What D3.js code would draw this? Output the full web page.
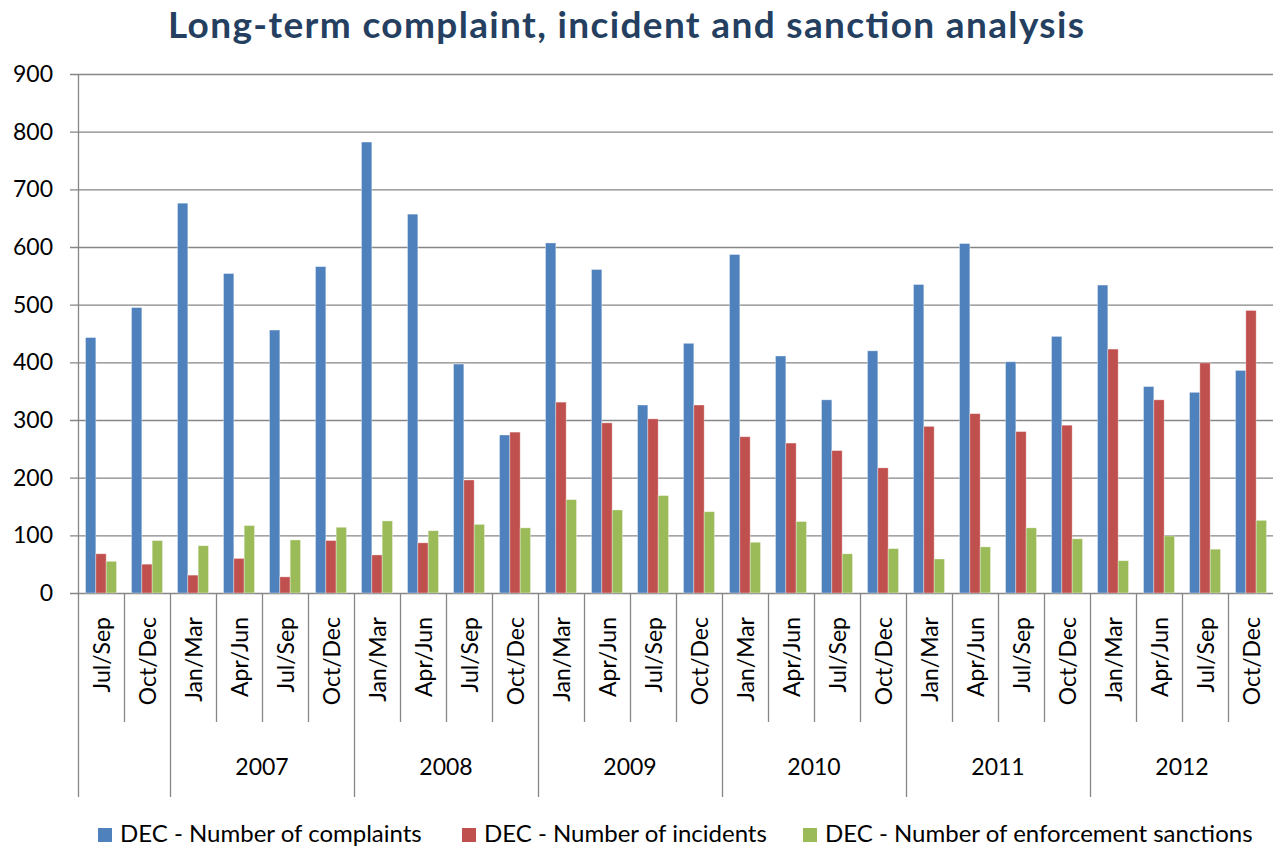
<!DOCTYPE html>
<html>
<head>
<meta charset="utf-8">
<script src="https://cdn.jsdelivr.net/npm/d3@7"></script>
<style>
  html, body { margin: 0; padding: 0; background: #fff; }
  svg { display: block; font-family: Lato, "Open Sans", sans-serif; }
</style>
</head>
<body>
<svg id="chart" width="1273" height="849"></svg>
<script>
const quarters = ["Jul/Sep","Oct/Dec",
  "Jan/Mar","Apr/Jun","Jul/Sep","Oct/Dec",
  "Jan/Mar","Apr/Jun","Jul/Sep","Oct/Dec",
  "Jan/Mar","Apr/Jun","Jul/Sep","Oct/Dec",
  "Jan/Mar","Apr/Jun","Jul/Sep","Oct/Dec",
  "Jan/Mar","Apr/Jun","Jul/Sep","Oct/Dec",
  "Jan/Mar","Apr/Jun","Jul/Sep","Oct/Dec"];
const years = ["", "", "2007","2007","2007","2007","2008","2008","2008","2008",
  "2009","2009","2009","2009","2010","2010","2010","2010",
  "2011","2011","2011","2011","2012","2012","2012","2012"];
const complaints = [443,495,676,554,456,566,782,657,397,274,607,561,326,433,587,411,335,420,535,606,401,445,534,358,348,386];
const incidents  = [68,50,31,60,28,91,66,87,196,279,331,295,302,326,271,260,247,217,289,311,280,291,423,335,399,490];
const sanctions  = [55,91,82,117,92,114,125,108,119,113,162,144,169,141,88,124,68,77,59,80,113,94,56,99,76,126];
const seriesNames = ["DEC - Number of complaints","DEC - Number of incidents","DEC - Number of enforcement sanctions"];
const colors = ["#4F81BD","#C0504D","#9BBB59"];
const yTicks = [0,100,200,300,400,500,600,700,800,900];
const title = "Long-term complaint, incident and sanction analysis";

(function () {
const svg = d3.select("#chart");
const pLeft = 78, pRight = 1274, pTop = 74, pBottom = 593;
const idx = d3.range(quarters.length);

const x = d3.scaleBand().domain(idx).range([pLeft, pRight]).paddingInner(0).paddingOuter(0);
const y = d3.scaleLinear().domain([0, 900]).range([pBottom, pTop]);
const groupW = x.bandwidth() * 0.674;
const x1 = d3.scaleBand().domain([0,1,2]).range([0, groupW]);
const offset = (x.bandwidth() - groupW) / 2;

// Title
svg.append("text")
  .attr("x", 626).attr("y", 38)
  .attr("text-anchor", "middle")
  .attr("font-size", 37).attr("font-weight", "bold")
  .attr("textLength", 916).attr("lengthAdjust", "spacing")
  .attr("fill", "#243F60")
  .text(title);

// Gridlines
svg.append("g").selectAll("line").data(yTicks).join("line")
  .attr("x1", pLeft - 8).attr("x2", pRight)
  .attr("y1", d => y(d) + 0.5).attr("y2", d => y(d) + 0.5)
  .attr("stroke", "#868686").attr("stroke-width", 1.3);

// Y axis line
svg.append("line")
  .attr("x1", pLeft + 0.5).attr("x2", pLeft + 0.5)
  .attr("y1", pTop).attr("y2", 797)
  .attr("stroke", "#868686").attr("stroke-width", 1.3);

// Y labels
const yAxis = d3.axisLeft(y).tickValues(yTicks).tickSize(0).tickPadding(25);
const yg = svg.append("g").attr("transform", `translate(${pLeft},0)`).call(yAxis);
yg.select(".domain").remove();
yg.selectAll("text").attr("font-size", 23).attr("font-family", "Lato, sans-serif").attr("fill", "#000");

// Bars
const series = [complaints, incidents, sanctions];
series.forEach((vals, s) => {
  svg.append("g").selectAll("rect").data(vals).join("rect")
    .attr("x", (d, i) => x(i) + offset + x1(s))
    .attr("width", x1.bandwidth())
    .attr("y", d => y(d))
    .attr("height", d => y(0) - y(d))
    .attr("fill", colors[s])
    .attr("stroke", "rgba(255,255,255,0.45)")
    .attr("stroke-width", 0.8);
});

// Category separators
idx.forEach(i => {
  if (i === 0) return;
  const isYear = years[i] !== years[i-1];
  const xx = Math.round(x(i)) + 0.5;
  svg.append("line")
    .attr("x1", xx).attr("x2", xx)
    .attr("y1", pBottom).attr("y2", isYear ? 797 : 722)
    .attr("stroke", "#868686").attr("stroke-width", 1.3);
});

// Quarter labels
svg.append("g").selectAll("text").data(quarters).join("text")
  .attr("transform", (d, i) => `translate(${x(i) + x.bandwidth()/2 + 9},${617}) rotate(-90)`)
  .attr("text-anchor", "end")
  .attr("font-size", 23)
  .attr("fill", "#000")
  .text(d => d);

// Year labels
const yearGroups = d3.groups(idx.filter(i => years[i] !== ""), i => years[i]);
svg.append("g").selectAll("text").data(yearGroups).join("text")
  .attr("x", d => (x(d[1][0]) + x(d[1][d[1].length-1]) + x.bandwidth()) / 2)
  .attr("y", 775)
  .attr("text-anchor", "middle")
  .attr("font-size", 23)
  .attr("fill", "#000")
  .text(d => d[0]);

// Legend
const legendX = [98, 462, 803];
seriesNames.forEach((name, s) => {
  svg.append("rect").attr("x", legendX[s]).attr("y", 828)
    .attr("width", 14).attr("height", 14).attr("fill", colors[s]);
  svg.append("text").attr("x", legendX[s] + 22).attr("y", 842)
    .attr("font-size", 24).attr("fill", "#000").text(name);
});
})();
</script>
</body>
</html>
